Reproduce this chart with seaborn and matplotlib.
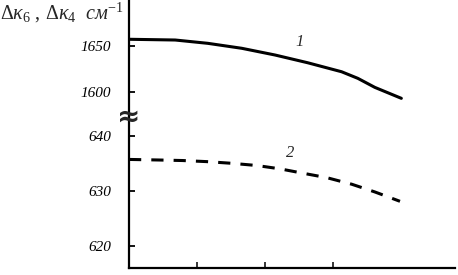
import numpy as np
import pandas as pd
import seaborn as sns
import matplotlib.pyplot as plt

# values
x1 = [0.0, 0.68, 1.16, 1.66, 2.15, 2.63, 3.13, 3.37, 3.62, 4.01]
kappa6 = [1657.0, 1656.2, 1652.6, 1647.2, 1639.9, 1631.5, 1621.7, 1614.5, 1604.7, 1592.8]
x2 = [0.0, 0.43, 0.79, 1.15, 1.51, 1.88, 2.22, 2.56, 2.91, 3.28, 3.62, 3.99]
kappa4 = [635.7, 635.6, 635.5, 635.3, 635.0, 634.6, 634.0, 633.2, 632.4, 631.2, 629.8, 628.1]
top_ticks = [1600, 1650]
bottom_ticks = [620, 630, 640]
x_ticks = [1, 2, 3]

sns.set_theme(style='white')
plt.rcParams['font.family'] = ['Liberation Serif', 'DejaVu Serif']
plt.rcParams['mathtext.fontset'] = 'custom'
plt.rcParams['mathtext.rm'] = 'Liberation Serif'
plt.rcParams['mathtext.it'] = 'Liberation Serif:italic'

df1 = pd.DataFrame({'x': x1, 'k6': kappa6})
df2 = pd.DataFrame({'x': x2, 'k4': kappa4})

fig = plt.figure(figsize=(4.58, 2.75), dpi=100)
left, right = 129 / 458, 455 / 458
brk = 1 - 117 / 275
bot = 1 - 268 / 275
ax_top = fig.add_axes([left, brk, right - left, 1 - brk])
ax_bot = fig.add_axes([left, bot, right - left, brk - bot])

sns.lineplot(data=df1, x='x', y='k6', ax=ax_top, color='black', lw=2.2)
sns.lineplot(data=df2, x='x', y='k4', ax=ax_bot, color='black', lw=2.2,
             linestyle=(0, (4, 3.3)))

for ax in (ax_top, ax_bot):
    ax.set_xlim(0, 4.8)
    ax.set_xlabel('')
    ax.set_ylabel('')
    for s in ('top', 'right'):
        ax.spines[s].set_visible(False)
    ax.spines['left'].set_color('black')
    ax.spines['left'].set_linewidth(1.6)
    ax.tick_params(axis='y', direction='in', length=4, width=1.3, pad=13,
                   left=True, labelsize=11, colors='black')

ax_top.set_ylim(1572.5, 1699.7)
ax_top.set_yticks(top_ticks)
ax_top.set_yticklabels([str(t) for t in top_ticks], style='italic')
ax_top.spines['bottom'].set_visible(False)
ax_top.set_xticks([])

ax_bot.set_ylim(616.0, 643.4)
ax_bot.set_yticks(bottom_ticks)
ax_bot.set_yticklabels([str(t) for t in bottom_ticks], style='italic')
ax_bot.spines['bottom'].set_color('black')
ax_bot.spines['bottom'].set_linewidth(1.6)
ax_bot.set_xticks(x_ticks)
ax_bot.set_xticklabels([])
ax_bot.tick_params(axis='x', direction='in', length=4, width=1.3, bottom=True)

# curve numbers
ax_top.text(2.51, 1654.4, '1', style='italic', fontsize=12, ha='center', va='center')
ax_bot.text(2.37, 636.9, '2', style='italic', fontsize=12, ha='center', va='center')

# axis break mark
fig.text(left, brk, '≈', fontsize=20, fontweight='bold', ha='center', va='center',
         family='DejaVu Sans')

# y label
fig.text(0.0, 0.998, r'$\Delta\mathit{\kappa}_6\ ,\,\Delta\mathit{\kappa}_4\ \ \mathit{см}^{-1}$',
         fontsize=14.5, ha='left', va='top')

fig.savefig('out.png', dpi=100)
